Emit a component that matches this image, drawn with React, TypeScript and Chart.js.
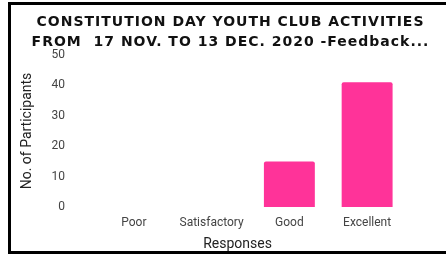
import React, { useEffect, useRef } from "react";
import { Chart, registerables } from "chart.js";

Chart.register(...registerables);

const titleLines = [
  "CONSTITUTION DAY YOUTH CLUB ACTIVITIES",
  "FROM  17 NOV. TO 13 DEC. 2020 -Feedback...",
];
const categories = ["Poor", "Satisfactory", "Good", "Excellent"];
const participants = [0, 0, 15, 41];
const yTitle = "No. of Participants";
const xTitle = "Responses";

const textPlugin = {
  id: "textPlugin",
  afterDraw(chart: any) {
    const { ctx, chartArea, width, height } = chart;
    ctx.save();
    ctx.font = "14px Roboto";
    ctx.fillStyle = "#222222";
    ctx.textAlign = "center";
    ctx.textBaseline = "middle";
    ctx.fillText(xTitle, (chartArea.left + chartArea.right) / 2 - 13, height - 7);
    ctx.font = "bold 14px 'DejaVu Sans', Verdana, sans-serif";
    ctx.fillStyle = "#111111";
    if ("letterSpacing" in ctx) (ctx as any).letterSpacing = "1px";
    titleLines.forEach((line, i) => {
      ctx.fillText(line, width / 2 + 2, 17 + i * 20);
    });
    ctx.restore();
  },
};

export default function App() {
  const ref = useRef<HTMLCanvasElement | null>(null);

  useEffect(() => {
    if (!ref.current) return;
    const chart = new Chart(ref.current, {
      type: "bar",
      data: {
        labels: categories,
        datasets: [
          {
            data: participants,
            backgroundColor: "#FF3399",
            borderRadius: 2,
            barPercentage: 0.655,
            categoryPercentage: 1,
          },
        ],
      },
      options: {
        animation: false,
        responsive: false,
        maintainAspectRatio: false,
        layout: { padding: { left: 0, right: 40, top: 50, bottom: 0 } },
        plugins: {
          legend: { display: false },
          tooltip: { enabled: false },
          title: { display: false },
        },
        scales: {
          x: {
            grid: { display: false, drawTicks: false },
            border: { display: false },
            ticks: { color: "#444444", font: { family: "Roboto", size: 12 }, padding: 9 },
            afterFit: (s: any) => {
              s.height = 44;
            },
          },
          y: {
            min: 0,
            max: 50,
            grid: { display: false, drawTicks: false },
            border: { display: false },
            ticks: { stepSize: 10, color: "#444444", font: { family: "Roboto", size: 12 }, padding: 30 },
            title: {
              display: true,
              text: yTitle,
              color: "#222222",
              font: { family: "Roboto", size: 14 },
              padding: { top: 8, bottom: 0 },
            },
            afterFit: (s: any) => {
              s.width = 84;
            },
          },
        },
      },
      plugins: [textPlugin],
    });
    return () => chart.destroy();
  }, []);

  return (
    <div
      style={{
        position: "absolute",
        left: 8,
        top: 2,
        width: 438,
        height: 252,
        boxSizing: "border-box",
        borderLeft: "3px solid #000",
        borderTop: "3px solid #000",
        borderBottom: "3px solid #000",
        background: "#fff",
        overflow: "hidden",
      }}
    >
      <canvas ref={ref} width={435} height={246} style={{ display: "block" }} />
    </div>
  );
}
